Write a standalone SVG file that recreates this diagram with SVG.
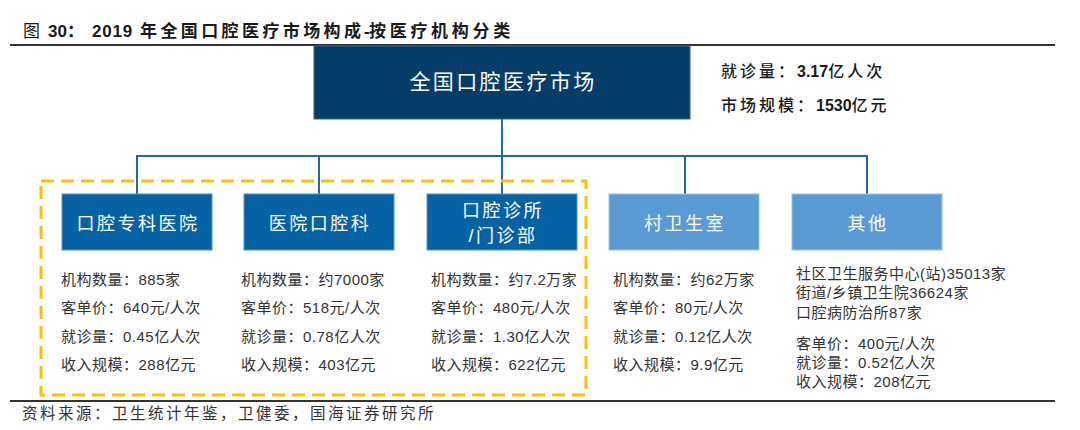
<svg xmlns="http://www.w3.org/2000/svg" width="1080" height="430" viewBox="0 0 1080 430">
<style>
text{font-family:"Liberation Sans","Noto Sans CJK SC",sans-serif;}
.title{font-size:17px;font-weight:bold;fill:#1a1a1a;}
.rule{stroke:#333;stroke-width:2;}
.top{fill:#053C68;stroke:#3a6690;stroke-width:1;}
.dark{fill:#0563A5;stroke:#5a93c6;stroke-width:1;}
.light{fill:#5B9BD5;stroke:#9cc3e8;stroke-width:1;}
.conn{stroke:#2168A8;stroke-width:2;fill:none;}
.lbl{fill:#fff;font-size:18px;letter-spacing:2.5px;text-anchor:middle;}
.body{fill:#333;font-size:15px;letter-spacing:0.5px;}
.info{fill:#1a1a1a;font-size:16px;font-weight:500;letter-spacing:3px;}
.num{font-weight:bold;letter-spacing:0px;}
.src{fill:#333;font-size:15.5px;letter-spacing:2.5px;}
</style>

<g id="title">
<text class="title" y="37"><tspan x="23" font-weight="normal">图</tspan><tspan x="48">30：</tspan><tspan x="92" letter-spacing="0.8">2019</tspan><tspan x="140" letter-spacing="3.4">年全国口腔医疗市场构成</tspan><tspan x="364">-</tspan><tspan x="369" letter-spacing="3.7">按医疗机构分类</tspan></text>
<line class="rule" x1="10" y1="45" x2="1055" y2="45"/>
</g>

<g id="connectors">
<path class="conn" d="M502 119 V194 M137 194 V156 H867 V194 M319 156 V194 M685 156 V194"/>
</g>

<rect id="highlight" x="41" y="181" width="545" height="214" fill="none" stroke="#FFC000" stroke-width="3" stroke-dasharray="13 7"/>

<g id="node-market">
<rect class="top" x="314" y="46" width="376" height="73"/>
<text fill="#fff" font-size="21" letter-spacing="2.4" text-anchor="middle" x="503" y="89">全国口腔医疗市场</text>
</g>

<g id="market-info">
<text class="info" x="721" y="77">就诊量：<tspan class="num">3.17</tspan>亿人次</text>
<text class="info" x="721" y="111">市场规模：<tspan class="num">1530</tspan>亿元</text>
</g>

<g id="node-specialty">
<rect class="dark" x="62" y="194" width="150" height="56"/>
<text class="lbl" x="138" y="230">口腔专科医院</text>
<text class="body" x="61"><tspan x="61" y="284.5">机构数量：885家</tspan><tspan x="61" y="313">客单价：640元/人次</tspan><tspan x="61" y="341.5">就诊量：0.45亿人次</tspan><tspan x="61" y="370">收入规模：288亿元</tspan></text>
</g>

<g id="node-dept">
<rect class="dark" x="244" y="194" width="150" height="56"/>
<text class="lbl" x="320" y="230">医院口腔科</text>
<text class="body"><tspan x="241" y="284.5">机构数量：约7000家</tspan><tspan x="241" y="313">客单价：518元/人次</tspan><tspan x="241" y="341.5">就诊量：0.78亿人次</tspan><tspan x="241" y="370">收入规模：403亿元</tspan></text>
</g>

<g id="node-clinic">
<rect class="dark" x="427" y="194" width="150" height="56"/>
<text class="lbl" x="503" y="217">口腔诊所</text>
<text class="lbl" x="503" y="242">/门诊部</text>
<text class="body"><tspan x="431" y="284.5">机构数量：约7.2万家</tspan><tspan x="431" y="313">客单价：480元/人次</tspan><tspan x="431" y="341.5">就诊量：1.30亿人次</tspan><tspan x="431" y="370">收入规模：622亿元</tspan></text>
</g>

<g id="node-village">
<rect class="light" x="609" y="194" width="150" height="56"/>
<text class="lbl" x="685" y="230">村卫生室</text>
<text class="body"><tspan x="613" y="284.5">机构数量：约62万家</tspan><tspan x="613" y="313">客单价：80元/人次</tspan><tspan x="613" y="341.5">就诊量：0.12亿人次</tspan><tspan x="613" y="370">收入规模：9.9亿元</tspan></text>
</g>

<g id="node-other">
<rect class="light" x="792" y="194" width="150" height="56"/>
<text class="lbl" x="868" y="230">其他</text>
<text class="body"><tspan x="796" y="278.5">社区卫生服务中心(站)35013家</tspan><tspan x="796" y="298">街道/乡镇卫生院36624家</tspan><tspan x="796" y="317.5">口腔病防治所87家</tspan><tspan x="796" y="348.5">客单价：400元/人次</tspan><tspan x="796" y="367.5">就诊量：0.52亿人次</tspan><tspan x="796" y="386.5">收入规模：208亿元</tspan></text>
</g>

<g id="source">
<line class="rule" x1="10" y1="401" x2="1055" y2="401"/>
<text class="src" x="22" y="419">资料来源：卫生统计年鉴，卫健委，国海证券研究所</text>
</g>
</svg>
